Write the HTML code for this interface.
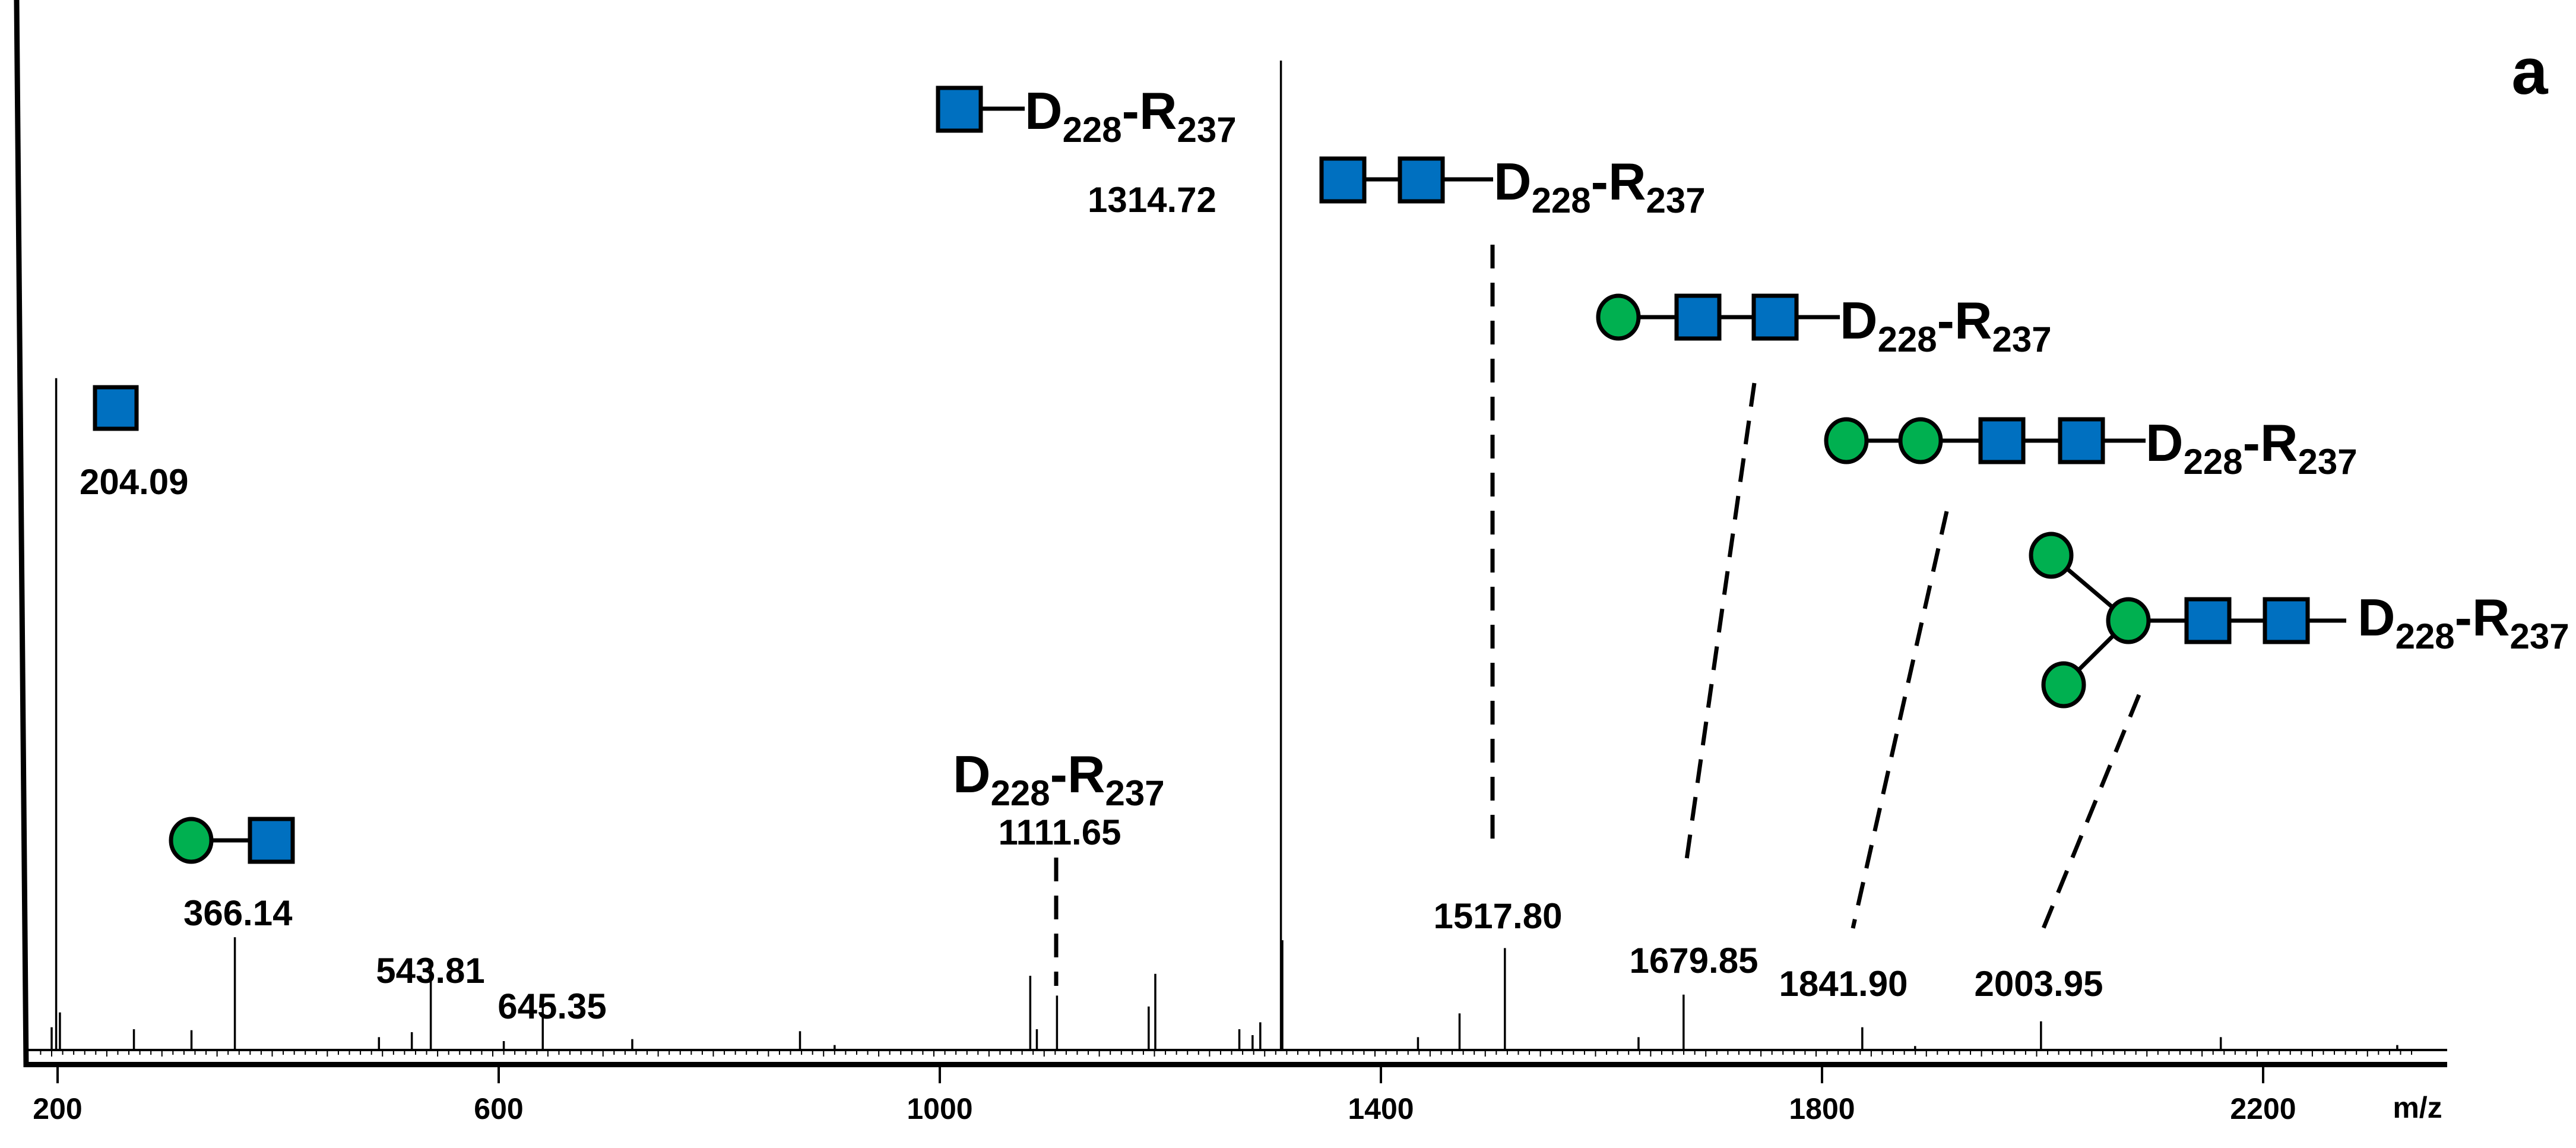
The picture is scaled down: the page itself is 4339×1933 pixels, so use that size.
<!DOCTYPE html>
<html><head><meta charset="utf-8"><style>
html,body{margin:0;padding:0;background:#fff;}
svg{display:block;font-family:"Liberation Sans",sans-serif;font-weight:bold;}
</style></head><body>
<svg id="chart" width="4339" height="1933" viewBox="0 0 4339 1933" xmlns="http://www.w3.org/2000/svg">
<rect width="4339" height="1933" fill="#fff"/>
<g id="peaks"></g>
<g id="axes"></g>
<g id="annot"></g>
</svg>
<script>
const peakMz = [200,204.09,207.5,274.6,326.8,366.14,496.8,526.6,543.81,610,645.35,726.5,878.6,910,1087.4,1093.4,1111.65,1194.8,1200.8,1277,1289,1296,1314.72,1315.6,1439,1476.7,1517.80,1639,1679.85,1841.90,1889.8,2003.95,2167,2327];
const peakInt = [2.3,67.9,3.8,2.1,2.0,11.4,1.3,1.8,9.1,0.9,5.2,1.1,1.9,0.5,7.5,2.1,5.5,4.4,7.7,2.1,1.5,2.8,100,11.1,1.3,3.7,10.3,1.3,5.6,2.3,0.4,2.9,1.3,0.5];
const tickVals = [200,600,1000,1400,1800,2200];
const NS="http://www.w3.org/2000/svg";
const baseY=1768, topY=102;
function xS(mz){return 87+(mz-200)*1.8575;}
function xT(mz){return 97+(mz-200)*1.8575;}
function yS(v){return baseY-(v/100)*(baseY-topY);}
function mk(tag,attrs,parent){const e=document.createElementNS(NS,tag);for(const k in attrs)e.setAttribute(k,attrs[k]);parent.appendChild(e);return e;}
const P=document.getElementById('peaks'),A=document.getElementById('axes'),N=document.getElementById('annot');
peakMz.forEach((m,i)=>{
  const l=mk('line',{x1:xS(m),x2:xS(m),y1:baseY,y2:yS(peakInt[i]),stroke:'#000','stroke-width':(i==23?5:3.5)},P);
  
  
});
let e=mk('line',{x1:28,y1:0,x2:44,y2:1797,stroke:'#000','stroke-width':9},A);


e=mk('line',{x1:42,y1:baseY,x2:4122,y2:baseY,stroke:'#000','stroke-width':4},A);


e=mk('rect',{x:42,y:1788,width:4080,height:9,fill:'#000'},A);


for(let m=190;m<=2340;m+=10){
  const t=mk('line',{x1:xS(m),x2:xS(m),y1:baseY,y2:baseY+(m%50==0?11:8),stroke:'#000','stroke-width':2},A);
  
  
}
tickVals.forEach(v=>{
  const t=mk('line',{x1:xT(v),x2:xT(v),y1:1797,y2:1824,stroke:'#000','stroke-width':4},A);
  
  
  const tx=mk('text',{x:xT(v),y:1884,'font-size':50,'text-anchor':'middle'},A);
  tx.textContent=v;
  
  
});
e=mk('text',{x:4072,y:1882,'font-size':50,'text-anchor':'middle'},A);
e.textContent='m/z';


function label(txt,x,y,anchor,name){const t=mk('text',{x:x,y:y,'font-size':60,'text-anchor':anchor||'middle'},N);t.textContent=txt;
  
  return t;}
function pep(x,y,name){const t=mk('text',{x:x,y:y,'font-size':88},N);
  t.innerHTML='D<tspan font-size="60" dy="22">228</tspan><tspan dy="-22">-R</tspan><tspan font-size="60" dy="22">237</tspan>';
  
  }
function sq(x,y,w,name){const r=mk('rect',{x:x,y:y,width:w,height:w,fill:'#0070C0',stroke:'#000','stroke-width':7},N);
  
  }
function ci(cx,cy,name){const c=mk('ellipse',{cx:cx,cy:cy,rx:34,ry:36,fill:'#00B050',stroke:'#000','stroke-width':7},N);
  
  }
function ln(x1,y1,x2,y2,dash,name){const l=mk('line',{x1:x1,y1:y1,x2:x2,y2:y2,stroke:'#000','stroke-width':dash?7:7,'stroke-dasharray':dash?'40 24':'none'},N);
  
  }
sq(160,652,70,'hexnac-204');
label('204.09',134,832,'start','label-204');
ln(356,1415,421,1415,false,'link-366');
ci(322,1415,'hex-366'); sq(421,1379,72,'hexnac-366');
label('366.14',309,1558,'start','label-366');
label('543.81',725,1655,'middle','label-543');
label('645.35',930,1715,'middle','label-645');
pep(1605,1334,'peptide-1111');
label('1111.65',1785,1422,'middle','label-1111');
ln(1779,1444,1779,1660,true,'dash-1111');
ln(1654,183,1726,183,false,'link-1314');
sq(1580,148,72,'hexnac-1314');
pep(1726,217,'peptide-1314');
label('1314.72',1832,357,'start','label-1314');
ln(2300,302,2515,302,false,'link-1517');
sq(2226,267,72,'hexnac-1517-a'); sq(2358,267,72,'hexnac-1517-b');
pep(2516,336,'peptide-1517');
ln(2514,412,2514,1412,true,'dash-1517');
label('1517.80',2523,1563,'middle','label-1517');
ln(2760,534,3099,534,false,'link-1679');
ci(2726,534,'hex-1679'); sq(2824,498,72,'hexnac-1679-a'); sq(2954,498,72,'hexnac-1679-b');
pep(3099,570,'peptide-1679');
ln(2955,645,2839,1461,true,'dash-1679');
label('1679.85',2853,1638,'middle','label-1679');
ln(3110,742,3614,742,false,'link-1841');
ci(3110,742,'hex-1841-a'); ci(3235,742,'hex-1841-b'); sq(3336,706,72,'hexnac-1841-a'); sq(3470,706,72,'hexnac-1841-b');
pep(3614,776,'peptide-1841');
ln(3279,861,3121,1563,true,'dash-1841');
label('1841.90',3105,1677,'middle','label-1841');
ln(3455,935,3585,1045,false,'branch-a'); ln(3476,1153,3585,1045,false,'branch-b');
ln(3585,1045,3952,1045,false,'link-2003');
ci(3455,935,'hex-2003-a'); ci(3476,1153,'hex-2003-c'); ci(3585,1045,'hex-2003-b');
sq(3683,1009,72,'hexnac-2003-a'); sq(3815,1009,72,'hexnac-2003-b');
pep(3971,1070,'peptide-2003');
ln(3603,1170,3442,1563,true,'dash-2003');
label('2003.95',3434,1677,'middle','label-2003');
const a=mk('text',{x:4261,y:158,'font-size':110,'text-anchor':'middle'},N);a.textContent='a';


</script>
</body></html>
